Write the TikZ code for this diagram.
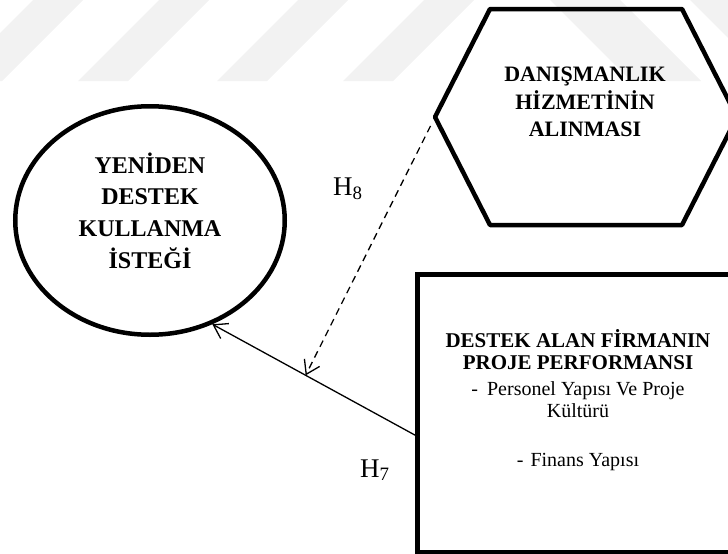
\documentclass[tikz,border=0pt]{standalone}
\usepackage{fontspec}
\setmainfont{Liberation Serif}
\usetikzlibrary{arrows.meta, shapes.geometric, positioning}
\definecolor{filigran}{HTML}{F2F2F2}

\begin{document}
\begin{tikzpicture}[x=1pt, y=-1pt,
    kalin/.style={draw, line width=4.5pt},
    oval/.style={kalin, ellipse, minimum width=269.5pt, minimum height=228.5pt, inner sep=0pt},
    kutu/.style={kalin, rectangle, minimum width=319.5pt, minimum height=277.5pt, inner sep=0pt},
    baslik/.style={align=center, inner sep=0pt, font=\bfseries\fontsize{22}{27.5}\selectfont},
    etiket/.style={inner sep=0pt, font=\fontsize{27}{27}\selectfont},
    arr/.style={-{Straight Barb[length=13pt, width=17pt]}, line width=1.3pt},
    kesik/.style={arr, dash pattern=on 7pt off 5pt}
  ]
  \useasboundingbox (0,0) rectangle (728,554);
  \clip (0,0) rectangle (728,554);

  % filigran
  \foreach \x in {-48, 78, 217, 343}
    \fill[filigran] (\x,81) -- ++(50,0) -- ++(81,-81) -- ++(-50,0) -- cycle;
  \foreach \x/\w in {550/70, 690/55}
    \fill[filigran] (\x,0) -- ++(\w,0) -- ++(81,81) -- ++(-\w,0) -- cycle;

  % altigen
  \coordinate (hm) at (586,117);
  \draw[kalin, line join=round] (hm) ++(-96,-108) -- ++(192,0) -- ++(55,108)
    -- ++(-55,108) -- ++(-192,0) -- ++(-55,-108) -- cycle;
  \coordinate (hw) at ([xshift=-151pt]hm);
  \node[baslik] (hizmet) at (585,102) {DANIŞMANLIK\\HİZMETİNİN\\ALINMASI};

  % elips
  \node[oval] (istek) at (150,220.5) {};
  \node[baslik, font=\bfseries\fontsize{24}{31.7}\selectfont] (istektxt) at (150,210.5)
    {YENİDEN\\DESTEK\\KULLANMA\\İSTEĞİ};

  % kutu
  \node[kutu] (perf) at (577.25,413.25) {};
  \node[align=center, inner sep=0pt, font=\fontsize{20}{22}\selectfont] (perftxt) at (578,400.5)
    {{\bfseries\fontsize{21}{23}\selectfont DESTEK ALAN FİRMANIN}\\
     {\bfseries\fontsize{21}{23}\selectfont PROJE PERFORMANSI}\\[4pt]
     -\hspace{9pt}Personel Yapısı Ve Proje\\
     Kültürü\\[27pt]
     -\hspace{7pt}Finans Yapısı};

  % oklar
  \draw[arr] ([yshift=-22pt]perf.west) -- coordinate[pos=0.54] (kesisim) (istek.-59);
  \draw[kesik, shorten <=10pt] (hw) -- (kesisim);

  \node[etiket, anchor=base west] (h8) at (333,195) {H\textsubscript{8}};
  \node[etiket, anchor=base west] (h7) at (360,477) {H\textsubscript{7}};
\end{tikzpicture}
\end{document}
